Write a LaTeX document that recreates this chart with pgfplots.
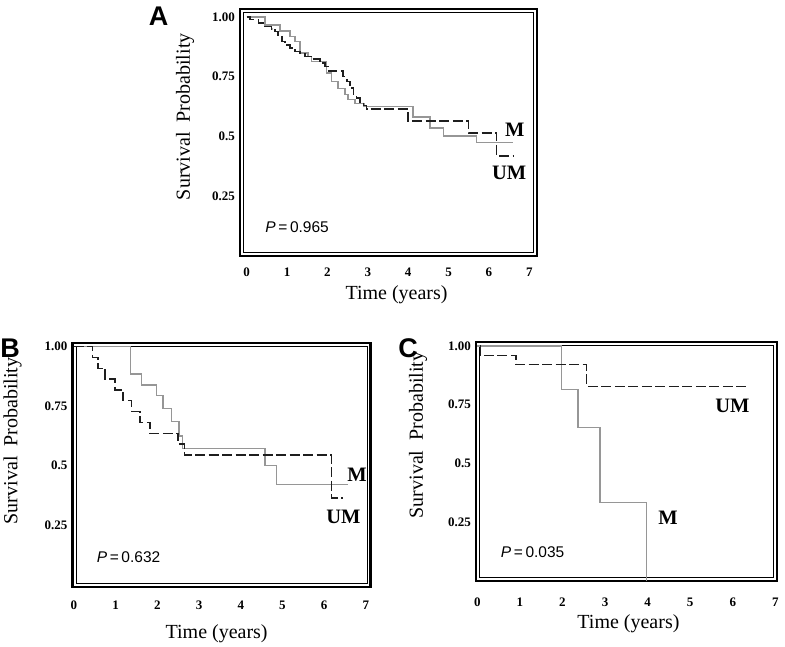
\documentclass[border=0pt]{standalone}
\usepackage{fontspec}
\setmainfont{Liberation Serif}
\newfontfamily\arial{Liberation Sans}
\usepackage{pgfplots}
\pgfplotsset{compat=1.18}

\definecolor{umcol}{RGB}{30,30,30}
\definecolor{mcol}{RGB}{150,150,150}

\pgfplotstableread{
t s
0 1.0
0.08 0.99
0.29 0.974
0.45 0.96
0.62 0.95
0.70 0.939
0.78 0.925
0.87 0.897
0.95 0.883
1.07 0.869
1.20 0.856
1.32 0.846
1.44 0.835
1.61 0.824
1.81 0.807
1.94 0.793
2.02 0.773
2.39 0.75
2.48 0.73
2.56 0.703
2.64 0.675
2.72 0.66
2.80 0.645
2.89 0.63
2.97 0.615
4.00 0.564
5.49 0.515
6.19 0.418
6.60 0.418
}\aUM

\pgfplotstableread{
t s
0 1.0
0.45 0.967
0.83 0.94
1.07 0.918
1.20 0.897
1.32 0.85
1.52 0.835
1.61 0.814
1.98 0.766
2.10 0.73
2.26 0.70
2.43 0.675
2.51 0.654
2.68 0.638
2.90 0.626
4.12 0.582
4.54 0.536
4.87 0.501
5.69 0.474
6.60 0.474
}\aM

\pgfplotstableread{
t s
0 1.0
0.45 0.955
0.58 0.909
0.75 0.864
0.98 0.818
1.18 0.773
1.38 0.727
1.58 0.682
1.82 0.636
2.50 0.591
2.65 0.545
6.18 0.364
6.46 0.364
}\bUM

\pgfplotstableread{
t s
0 1.0
1.36 0.885
1.62 0.84
1.98 0.795
2.14 0.74
2.34 0.685
2.52 0.625
2.60 0.572
4.58 0.50
4.86 0.42
6.58 0.42
}\bM

\pgfplotstableread{
t s
0.06 1.0
0.07 0.96
0.91 0.92
2.57 0.828
6.40 0.828
}\cUM

\pgfplotstableread{
t s
0 1.0
1.98 0.814
2.37 0.652
2.88 0.334
3.97 0.0
}\cM

\pgfplotsset{
  kmstyle/.style={
    scale only axis, anchor=south west, clip=false,
    axis line style={line width=2.4pt, black},
    xtick={0,...,7}, ytick={0.25,0.5,0.75,1}, yticklabels={0.25,0.5,0.75,1.00},
    major tick length=0pt,
    tick label style={font=\bfseries\fontsize{13}{13}\selectfont},
    /pgf/number format/assume math mode=true,
    yticklabel style={anchor=east, inner sep=0pt, xshift=-5pt},
    xlabel={Time (years)}, ylabel={Survival\ \ Probability},
    label style={font=\fontsize{20}{20}\selectfont, anchor=center},
  },
  umline/.style={const plot, no marks, umcol, line width=1.5pt, dash pattern=on 10pt off 3.5pt},
  mline/.style={const plot, no marks, mcol, line width=1.5pt},
}
\newcommand{\innerframe}{\draw[line width=0.7pt, black] ([xshift=3.8pt,yshift=3.8pt]rel axis cs:0,0) rectangle ([xshift=-3.8pt,yshift=-3.8pt]rel axis cs:1,1);}
\newcommand{\pval}[1]{{\arial\fontsize{15.5}{15.5}\selectfont\textit{P}\,=\,#1}}
\newcommand{\grp}[1]{{\bfseries\fontsize{20.5}{20.5}\selectfont #1}}

\begin{document}
\begin{tikzpicture}
\useasboundingbox (0,0) rectangle (785pt,-646pt);

% Panel A
\begin{axis}[kmstyle,
  at={(240pt,-256pt)}, width=297pt, height=247pt,
  xmin=-0.166, xmax=7.19, ymin=0, ymax=1.033,
  xticklabel style={anchor=base, inner sep=0pt, yshift=-20pt},
  xlabel style={at={([yshift=-39pt]axis description cs:0.527,0)}},
  ylabel style={at={([xshift=-55pt]axis description cs:0,0.564)}},
]
\innerframe
\addplot[mline] table[x=t,y=s] {\aM};
\addplot[umline] table[x=t,y=s] {\aUM};
\node at (axis cs:6.64,0.529) {\grp{M}};
\node at (axis cs:6.50,0.348) {\grp{UM}};
\node at (axis cs:1.25,0.12) {\pval{0.965}};
\end{axis}

% Panel B
\begin{axis}[kmstyle,
  at={(72.7pt,-586.7pt)}, width=298pt, height=244pt,
  xmin=-0.03, xmax=7.115, ymin=-0.009, ymax=1.017,
  xticklabel style={anchor=base, inner sep=0pt, yshift=-22.6pt},
  xlabel style={at={([yshift=-46.6pt]axis description cs:0.483,0)}},
  ylabel style={at={([xshift=-60pt]axis description cs:0,0.598)}},
]
\innerframe
\addplot[mline] table[x=t,y=s] {\bM};
\addplot[umline] table[x=t,y=s] {\bUM};
\node at (axis cs:6.79,0.46) {\grp{M}};
\node at (axis cs:6.46,0.286) {\grp{UM}};
\node at (axis cs:1.31,0.114) {\pval{0.632}};
\end{axis}

% Panel C
\begin{axis}[kmstyle,
  at={(476pt,-580.7pt)}, width=300.7pt, height=239pt,
  xmin=-0.03, xmax=7.03, ymin=0, ymax=1.018,
  xticklabel style={anchor=base, inner sep=0pt, yshift=-25.3pt},
  xlabel style={at={([yshift=-42.6pt]axis description cs:0.507,0)}},
  ylabel style={at={([xshift=-58pt]axis description cs:0,0.61)}},
]
\innerframe
\addplot[mline] table[x=t,y=s] {\cM};
\addplot[umline] table[x=t,y=s] {\cUM};
\node at (axis cs:4.48,0.27) {\grp{M}};
\node at (axis cs:5.99,0.743) {\grp{UM}};
\node at (axis cs:1.30,0.12) {\pval{0.035}};
\end{axis}

\node[font=\arial\bfseries\fontsize{27}{27}\selectfont] at (158.5pt,-16pt) {A};
\node[font=\arial\bfseries\fontsize{27}{27}\selectfont] at (10pt,-348pt) {B};
\node[font=\arial\bfseries\fontsize{27}{27}\selectfont] at (408pt,-348pt) {C};
\end{tikzpicture}
\end{document}
